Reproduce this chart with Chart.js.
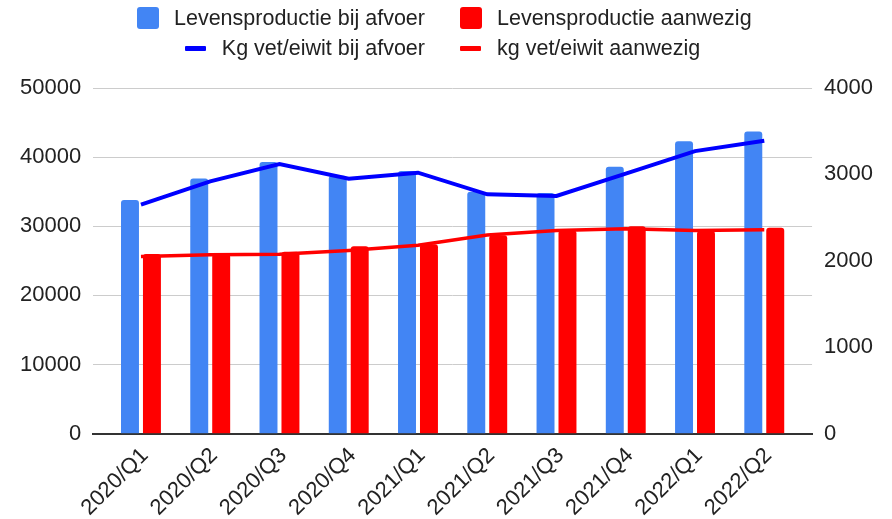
<!DOCTYPE html>
<html lang="nl">
<head>
    <meta charset="UTF-8">
    <meta name="viewport" content="width=device-width, initial-scale=1.0">
    <script src="https://cdn.jsdelivr.net/npm/chart.js"></script>
    <style>
        body {
            margin: 0;
            padding: 0;
            background: #fff;
            font-family: "Liberation Sans", Arial, sans-serif;
        }
        #wrap {
            position: relative;
            width: 892px;
            height: 519px;
        }
        #legend {
            position: absolute;
            top: 3px;
            left: 0;
            display: grid;
            grid-template-columns: 425px auto;
            grid-template-rows: 30px 30px;
            column-gap: 35px;
            font-size: 21.5px;
            color: #222;
        }
        .item {
            display: flex;
            align-items: center;
        }
        .left { justify-self: end; }
        .box {
            width: 22px;
            height: 22px;
            border-radius: 3px;
            margin-right: 15px;
        }
        .line {
            width: 21px;
            height: 5px;
            border-radius: 1px;
            margin-right: 16px;
        }
        #chart { position: absolute; top: 0; left: 0; }
    </style>
</head>
<body>
    <div id="wrap">
        <canvas id="chart" width="892" height="519"></canvas>
        <div id="legend">
            <div class="item left"><span class="box" style="background:#4285f4"></span>Levensproductie bij afvoer</div>
            <div class="item"><span class="box" style="background:#ff0000"></span>Levensproductie aanwezig</div>
            <div class="item left"><span class="line" style="background:#0000ff"></span>Kg vet/eiwit bij afvoer</div>
            <div class="item"><span class="line" style="background:#ff0000"></span>kg vet/eiwit aanwezig</div>
        </div>
    </div>
    <script>
        const quarters = ['2020/Q1', '2020/Q2', '2020/Q3', '2020/Q4', '2021/Q1', '2021/Q2', '2021/Q3', '2021/Q4', '2022/Q1', '2022/Q2'];
        // staven, linker as
        const lpAfvoer = [33800, 36900, 39300, 37300, 38000, 35000, 34800, 38600, 42300, 43700];
        const lpAanwezig = [26000, 26000, 26300, 27100, 27400, 28700, 29400, 30000, 29300, 29800];
        // lijnen, rechter as
        const kgAfvoer = [2650, 2920, 3120, 2950, 3020, 2770, 2750, 3010, 3270, 3390];
        const kgAanwezig = [2050, 2070, 2075, 2120, 2180, 2300, 2350, 2370, 2350, 2360];
        const leftTicks = [0, 10000, 20000, 30000, 40000, 50000];
        const rightTicks = [0, 1000, 2000, 3000, 4000];

        const toXY = (arr) => arr.map((v, i) => ({ x: i, y: v }));
        const tickFont = { family: '"Liberation Sans", Arial, sans-serif', size: 22 };

        const ctx = document.getElementById('chart').getContext('2d');
        const chart = new Chart(ctx, {
            data: {
                datasets: [{
                    type: 'line',
                    label: 'Kg vet/eiwit bij afvoer',
                    data: toXY(kgAfvoer),
                    yAxisID: 'y1',
                    borderColor: '#0000ff',
                    borderWidth: 4,
                    pointRadius: 0,
                    order: 0
                }, {
                    type: 'line',
                    label: 'kg vet/eiwit aanwezig',
                    data: toXY(kgAanwezig),
                    yAxisID: 'y1',
                    borderColor: '#ff0000',
                    borderWidth: 3.5,
                    pointRadius: 0,
                    order: 0
                }, {
                    type: 'bar',
                    label: 'Levensproductie bij afvoer',
                    data: toXY(lpAfvoer),
                    yAxisID: 'y',
                    backgroundColor: '#4285f4',
                    borderRadius: 3,
                    categoryPercentage: 0.634,
                    barPercentage: 0.818,
                    order: 1
                }, {
                    type: 'bar',
                    label: 'Levensproductie aanwezig',
                    data: toXY(lpAanwezig),
                    yAxisID: 'y',
                    backgroundColor: '#ff0000',
                    borderRadius: 3,
                    categoryPercentage: 0.634,
                    barPercentage: 0.818,
                    order: 1
                }]
            },
            options: {
                responsive: false,
                animation: false,
                layout: { padding: { top: 88, left: 8, right: 15, bottom: -3 } },
                plugins: {
                    legend: { display: false },
                    tooltip: { enabled: false }
                },
                scales: {
                    x: {
                        type: 'linear',
                        offset: false,
                        min: -0.69,
                        max: quarters.length - 1 + 0.69,
                        afterBuildTicks: (scale) => {
                            scale.ticks = quarters.map((q, i) => ({ value: i }));
                        },
                        ticks: {
                            autoSkip: false,
                            maxRotation: 45,
                            minRotation: 45,
                            padding: 1,
                            labelOffset: 4,
                            color: '#222',
                            font: tickFont,
                            callback: (v) => quarters[v]
                        },
                        grid: { display: false },
                        border: { display: true, color: '#333', width: 2 }
                    },
                    y: {
                        position: 'left',
                        min: 0,
                        max: 50000,
                        afterBuildTicks: (scale) => {
                            scale.ticks = leftTicks.map(v => ({ value: v }));
                        },
                        ticks: {
                            padding: 12,
                            color: '#222',
                            font: tickFont,
                            callback: (v) => String(v)
                        },
                        grid: { color: '#cccccc', lineWidth: 1, drawTicks: false },
                        border: { display: false }
                    },
                    y1: {
                        position: 'right',
                        min: 0,
                        max: 4000,
                        afterBuildTicks: (scale) => {
                            scale.ticks = rightTicks.map(v => ({ value: v }));
                        },
                        ticks: {
                            padding: 4,
                            color: '#222',
                            font: tickFont,
                            callback: (v) => String(v)
                        },
                        grid: { display: false },
                        border: { display: false }
                    }
                }
            }
        });
    </script>
</body>
</html>
